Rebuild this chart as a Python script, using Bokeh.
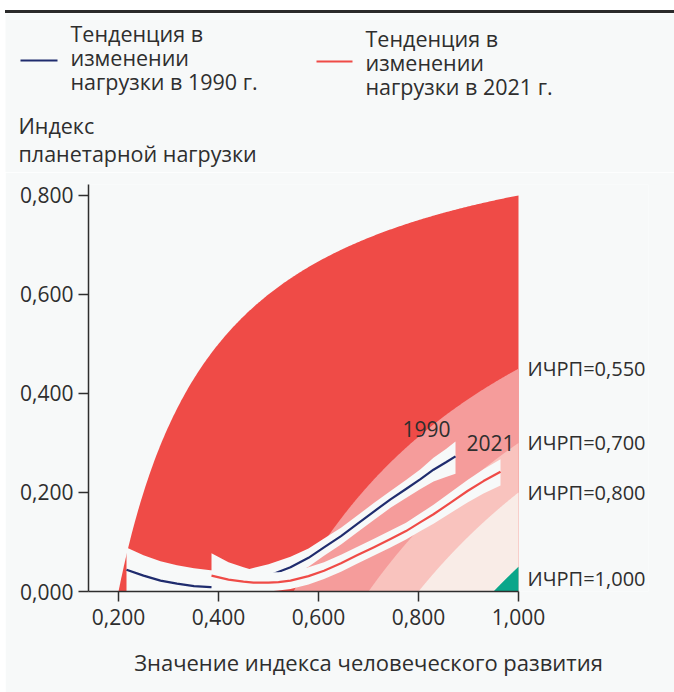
import numpy as np
from bokeh.plotting import figure
from bokeh.models import (Label, FixedTicker, CustomJSTickFormatter, Div, Range1d)
from bokeh.layouts import column
from bokeh.embed import file_html
from bokeh.resources import INLINE

# ---------------- data ----------------
# iso-levels of the planetary-pressures-adjusted HDI (ИЧРП) that bound the coloured zones
region_levels = [0.20, 0.55, 0.70, 0.80, 0.95]
region_colors = ["#ef4b47", "#f59c9b", "#f9c3be", "#f9ece7", "#0aa68a"]

# labelled iso-levels at the right edge
label_levels = [0.550, 0.700, 0.800, 1.000]
label_texts = ["ИЧРП=0,550", "ИЧРП=0,700", "ИЧРП=0,800", "ИЧРП=1,000"]

# 1990 trend (HDI, planetary pressure index) and its confidence band
hdi_1990 = [0.216, 0.25, 0.284, 0.317, 0.351, 0.384, 0.42, 0.46, 0.50, 0.544, 0.58,
            0.611, 0.645, 0.677, 0.71, 0.744, 0.775, 0.804, 0.83, 0.855, 0.874]
load_1990 = [0.044, 0.032, 0.022, 0.016, 0.011, 0.009, 0.010, 0.018, 0.032, 0.049, 0.068,
             0.089, 0.112, 0.136, 0.161, 0.186, 0.207, 0.227, 0.246, 0.261, 0.273]
upper_1990 = [0.089, 0.073, 0.061, 0.053, 0.047, 0.043, 0.042, 0.045, 0.055, 0.070, 0.087,
              0.107, 0.129, 0.153, 0.178, 0.203, 0.225, 0.247, 0.270, 0.288, 0.303]
lower_1990 = [0.0, 0.0, 0.0, 0.0, 0.0, 0.0, 0.0, 0.0, 0.005, 0.029, 0.050,
              0.072, 0.095, 0.119, 0.144, 0.169, 0.189, 0.207, 0.222, 0.231, 0.238]

# 2021 trend
hdi_2021 = [0.386, 0.42, 0.45, 0.47, 0.50, 0.52, 0.544, 0.58, 0.611, 0.645,
            0.677, 0.71, 0.744, 0.775, 0.804, 0.83, 0.865, 0.898, 0.93, 0.964]
load_2021 = [0.032, 0.024, 0.020, 0.018, 0.018, 0.019, 0.022, 0.031, 0.042, 0.057,
             0.073, 0.089, 0.106, 0.122, 0.140, 0.156, 0.180, 0.203, 0.223, 0.242]
upper_2021 = [0.077, 0.059, 0.049, 0.043, 0.039, 0.039, 0.041, 0.049, 0.059, 0.074,
              0.090, 0.106, 0.123, 0.139, 0.158, 0.175, 0.201, 0.225, 0.247, 0.267]
lower_2021 = [0.0, 0.0, 0.0, 0.0, 0.0, 0.002, 0.005, 0.014, 0.025, 0.040,
              0.056, 0.072, 0.089, 0.105, 0.122, 0.137, 0.159, 0.180, 0.198, 0.214]

x_ticks = [0.2, 0.4, 0.6, 0.8, 1.0]
y_ticks = [0.0, 0.2, 0.4, 0.6, 0.8]

legend_1990_lines = ["Тенденция в", "изменении", "нагрузки в 1990 г."]
legend_2021_lines = ["Тенденция в", "изменении", "нагрузки в 2021 г."]
y_title_lines = ["Индекс", "планетарной нагрузки"]
x_title = "Значение индекса человеческого развития"

# ---------------- style ----------------
BG = "#f7f9f9"
TXT = "#2e2e2e"
NAVY = "#1f2c6e"
RED = "#ef4b47"
FONT = "Open Sans"
W = 669
H_HEAD = 159
H_MAIN = 520

# ---------------- header (legend + y title), pixel coordinates ----------------
head = figure(width=W, height=H_HEAD, output_backend="svg", toolbar_location=None,
              x_range=Range1d(0, W), y_range=Range1d(H_HEAD, 0),
              x_axis_type=None, y_axis_type=None, frame_align=False,
              min_border=0, min_border_left=0, min_border_right=0,
              min_border_top=0, min_border_bottom=0)
head.background_fill_color = BG
head.border_fill_color = BG
head.outline_line_color = None
head.grid.visible = False

def head_lines(lines, x, y0, step, size):
    for i, t in enumerate(lines):
        head.add_layout(Label(x=x, y=y0 + i * step, text=t, text_align="left",
                              text_baseline="middle", text_font=FONT,
                              text_font_size=size, text_color=TXT))

head_lines(legend_1990_lines, 65, 20, 24, "21.5px")
head_lines(legend_2021_lines, 360, 25, 24, "21.5px")
head_lines(y_title_lines, 13, 112, 28, "21.5px")

# legend swatches
head.line(x=[15, 52], y=[47, 47], line_color=NAVY, line_width=2.2)
head.line(x=[311, 347], y=[48, 48], line_color=RED, line_width=2.2)

# ---------------- main chart ----------------
p = figure(width=W, height=H_MAIN, output_backend="svg", toolbar_location=None,
           x_range=Range1d(0.14, 1.26), y_range=Range1d(0.0, 0.822),
           frame_align=False,
           min_border_left=83, min_border_right=26,
           min_border_top=12, min_border_bottom=101)
p.background_fill_color = BG
p.border_fill_color = BG
p.outline_line_color = None
p.grid.visible = False

# zones: area below each PHDI iso-line  P = 1 - level / HDI
for lvl, col in zip(region_levels, region_colors):
    h = np.linspace(lvl, 1.0, 300)
    p.varea(x=h, y1=np.zeros_like(h), y2=1.0 - lvl / h, fill_color=col)

# bands and trend lines
p.varea(x=hdi_1990, y1=lower_1990, y2=upper_1990, fill_color=BG)
p.line(hdi_1990, load_1990, line_color=NAVY, line_width=2.2, line_join="round")
p.varea(x=hdi_2021, y1=lower_2021, y2=upper_2021, fill_color=BG)
p.line(hdi_2021, load_2021, line_color=RED, line_width=2.2, line_join="round")

# axes
for ax in (p.xaxis[0], p.yaxis[0]):
    ax.axis_line_color = TXT
    ax.axis_line_width = 1.5
    ax.major_tick_line_color = TXT
    ax.major_tick_line_width = 1.5
    ax.major_tick_out = 10
    ax.major_tick_in = 0
    ax.minor_tick_line_color = None
    ax.major_label_text_font = FONT
    ax.major_label_text_font_size = "21px"
    ax.major_label_text_color = TXT
    ax.formatter = CustomJSTickFormatter(code="return tick.toFixed(3).replace('.', ',');")
p.xaxis.ticker = FixedTicker(ticks=x_ticks)
p.yaxis.ticker = FixedTicker(ticks=y_ticks)
p.xaxis.bounds = (0.14, 1.0)
p.xaxis.major_label_standoff = 7
p.yaxis.major_label_standoff = 5
p.xaxis.axis_label = x_title
p.xaxis.axis_label_text_font = FONT
p.xaxis.axis_label_text_font_size = "22px"
p.xaxis.axis_label_text_font_style = "normal"
p.xaxis.axis_label_text_color = TXT
p.xaxis.axis_label_standoff = 19

# labels on the iso-lines at the right edge
for lvl, t in zip(label_levels, label_texts):
    p.add_layout(Label(x=1.0, y=1.0 - lvl, x_offset=9, text=t,
                       text_baseline="bottom" if lvl >= 1.0 else "middle",
                       text_font=FONT, text_font_size="20px", text_color=TXT))

p.add_layout(Label(x=hdi_1990[-1], y=upper_1990[-1], x_offset=-29, y_offset=4,
                   text="1990", text_align="center", text_baseline="bottom",
                   text_font=FONT, text_font_size="21px", text_color=TXT))
p.add_layout(Label(x=hdi_2021[-1], y=upper_2021[-1], x_offset=-10, y_offset=8,
                   text="2021", text_align="center", text_baseline="bottom",
                   text_font=FONT, text_font_size="21px", text_color=TXT))

gap = Div(text="", width=W, height=10, margin=0)
top_rule = Div(text="", width=W, height=3, margin=0,
               styles={"background-color": "#2a2a2a"})
layout = column(gap, top_rule, head, p, spacing=0, margin=(0, 0, 0, 5))

open("out.html", "w").write(file_html(layout, INLINE))
